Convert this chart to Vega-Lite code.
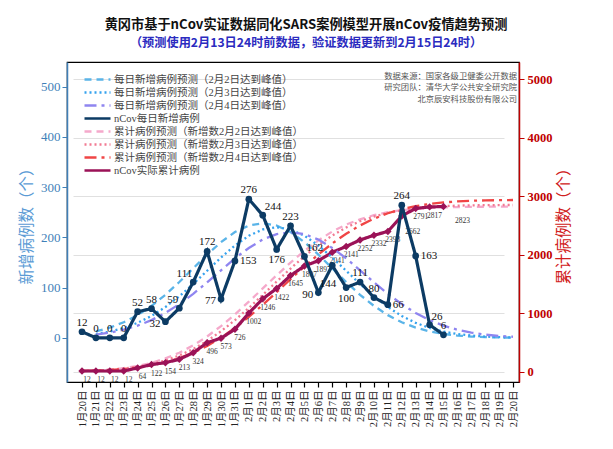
{
  "$schema": "https://vega.github.io/schema/vega-lite/v6.json",
  "width": 452,
  "height": 320,
  "autosize": {"type": "none"},
  "padding": {"left": 67, "top": 62, "right": 94, "bottom": 67},
  "title": {
    "text": "黄冈市基于nCov实证数据同化SARS案例模型开展nCov疫情趋势预测",
    "subtitle": "（预测使用2月13日24时前数据，验证数据更新到2月15日24时）",
    "anchor": "middle",
    "dx": 13,
    "offset": 12,
    "font": "Noto Sans CJK SC",
    "fontSize": 13.2,
    "fontWeight": "bold",
    "color": "#111111",
    "subtitleFont": "Noto Sans CJK SC",
    "subtitleFontSize": 12.2,
    "subtitleFontWeight": "bold",
    "subtitleColor": "#2b2bc0",
    "subtitlePadding": 5
  },
  "datasets": {
    "names": [
      {"key": "p1", "series": "每日新增病例预测（2月2日达到峰值）"},
      {"key": "p2", "series": "每日新增病例预测（2月3日达到峰值）"},
      {"key": "p3", "series": "每日新增病例预测（2月4日达到峰值）"},
      {"key": "act", "series": "nCov每日新增病例"},
      {"key": "c1", "series": "累计病例预测（新增数2月2日达到峰值）"},
      {"key": "c2", "series": "累计病例预测（新增数2月3日达到峰值）"},
      {"key": "c3", "series": "累计病例预测（新增数2月4日达到峰值）"},
      {"key": "cact", "series": "nCov实际累计病例"}
    ],
    "daily": [
      {"date": "1月20日", "act": 12},
      {"date": "1月21日", "act": 0, "p1": 12.8, "p2": 7.5, "p3": 6.3},
      {"date": "1月22日", "act": 0, "p1": 20.3, "p2": 12.3, "p3": 10.3},
      {"date": "1月23日", "act": 0, "p1": 30.9, "p2": 19.6, "p3": 16.1},
      {"date": "1月24日", "act": 52, "p1": 45.1, "p2": 29.8, "p3": 24.2},
      {"date": "1月25日", "act": 58, "p1": 63.4, "p2": 43.5, "p3": 35.2},
      {"date": "1月26日", "act": 32, "p1": 85.6, "p2": 61.2, "p3": 49.4},
      {"date": "1月27日", "act": 59, "p1": 111.0, "p2": 82.6, "p3": 67.0},
      {"date": "1月28日", "act": 111, "p1": 138.3, "p2": 107.2, "p3": 87.5},
      {"date": "1月29日", "act": 172, "p1": 165.6, "p2": 133.4, "p3": 110.4},
      {"date": "1月30日", "act": 77, "p1": 190.4, "p2": 159.8, "p3": 134.4},
      {"date": "1月31日", "act": 153, "p1": 210.5, "p2": 183.8, "p3": 158.2},
      {"date": "2月1日", "act": 276, "p1": 223.5, "p2": 203.1, "p3": 178.8},
      {"date": "2月2日", "act": 244, "p1": 228.0, "p2": 215.6, "p3": 195.6},
      {"date": "2月3日", "act": 176, "p1": 223.5, "p2": 220.0, "p3": 206.3},
      {"date": "2月4日", "act": 223, "p1": 210.5, "p2": 215.6, "p3": 210.0},
      {"date": "2月5日", "act": 162, "p1": 190.4, "p2": 203.1, "p3": 206.3},
      {"date": "2月6日", "act": 90, "p1": 165.6, "p2": 183.8, "p3": 195.6},
      {"date": "2月7日", "act": 144, "p1": 138.3, "p2": 159.8, "p3": 178.8},
      {"date": "2月8日", "act": 100, "p1": 111.0, "p2": 133.4, "p3": 158.2},
      {"date": "2月9日", "act": 111, "p1": 85.6, "p2": 107.2, "p3": 134.4},
      {"date": "2月10日", "act": 80, "p1": 63.4, "p2": 82.6, "p3": 110.4},
      {"date": "2月11日", "act": 66, "p1": 45.1, "p2": 61.2, "p3": 87.5},
      {"date": "2月12日", "act": 264, "p1": 30.9, "p2": 43.5, "p3": 67.0},
      {"date": "2月13日", "act": 163, "p1": 20.3, "p2": 29.8, "p3": 49.4},
      {"date": "2月14日", "act": 26, "p1": 12.8, "p2": 19.6, "p3": 35.2},
      {"date": "2月15日", "act": 6, "p1": 7.7, "p2": 12.3, "p3": 24.2},
      {"date": "2月16日", "p1": 4.5, "p2": 7.5, "p3": 16.1},
      {"date": "2月17日", "p1": 2.5, "p2": 4.4, "p3": 10.3},
      {"date": "2月18日", "p1": 1.4, "p2": 2.4, "p3": 6.3},
      {"date": "2月19日", "p1": 0.7, "p2": 1.3, "p3": 3.7},
      {"date": "2月20日", "p1": 0.4, "p2": 0.7, "p3": 2.1}
    ],
    "cum": [
      {"date": "1月20日", "cact": 12, "c1": 12, "c2": 12, "c3": 12},
      {"date": "1月21日", "cact": 12, "c1": 18, "c2": 19.7, "c3": 18.6},
      {"date": "1月22日", "cact": 12, "c1": 35, "c2": 32.9, "c3": 29.4},
      {"date": "1月23日", "cact": 12, "c1": 60, "c2": 53, "c3": 46.4},
      {"date": "1月24日", "cact": 64, "c1": 98, "c2": 83.9, "c3": 71.9},
      {"date": "1月25日", "cact": 122, "c1": 152, "c2": 128.8, "c3": 109},
      {"date": "1月26日", "cact": 154, "c1": 227, "c2": 192, "c3": 161},
      {"date": "1月27日", "cact": 213, "c1": 325, "c2": 277, "c3": 231.5},
      {"date": "1月28日", "cact": 324, "c1": 450, "c2": 388, "c3": 323.6},
      {"date": "1月29日", "cact": 496, "c1": 602, "c2": 526, "c3": 439.9},
      {"date": "1月30日", "cact": 573, "c1": 780, "c2": 691, "c3": 581.4},
      {"date": "1月31日", "cact": 726, "c1": 980, "c2": 881, "c3": 748},
      {"date": "2月1日", "cact": 1002, "c1": 1197, "c2": 1090, "c3": 936},
      {"date": "2月2日", "cact": 1246, "c1": 1423, "c2": 1313, "c3": 1142},
      {"date": "2月3日", "cact": 1422, "c1": 1649, "c2": 1540, "c3": 1359},
      {"date": "2月4日", "cact": 1645, "c1": 1866, "c2": 1763, "c3": 1581},
      {"date": "2月5日", "cact": 1807, "c1": 2066, "c2": 1973, "c3": 1798},
      {"date": "2月6日", "cact": 1897, "c1": 2244, "c2": 2163, "c3": 2004},
      {"date": "2月7日", "cact": 2041, "c1": 2396, "c2": 2328, "c3": 2192},
      {"date": "2月8日", "cact": 2141, "c1": 2515, "c2": 2465, "c3": 2359},
      {"date": "2月9日", "cact": 2252, "c1": 2605, "c2": 2572, "c3": 2500},
      {"date": "2月10日", "cact": 2332, "c1": 2675, "c2": 2652, "c3": 2616},
      {"date": "2月11日", "cact": 2398, "c1": 2726, "c2": 2712, "c3": 2709},
      {"date": "2月12日", "cact": 2662, "c1": 2761, "c2": 2758, "c3": 2779},
      {"date": "2月13日", "cact": 2791, "c1": 2784, "c2": 2792, "c3": 2831},
      {"date": "2月14日", "cact": 2817, "c1": 2799, "c2": 2815, "c3": 2868},
      {"date": "2月15日", "cact": 2823, "c1": 2809, "c2": 2830, "c3": 2894},
      {"date": "2月16日", "c1": 2814, "c2": 2839, "c3": 2911},
      {"date": "2月17日", "c1": 2818, "c2": 2844, "c3": 2922},
      {"date": "2月18日", "c1": 2820, "c2": 2847, "c3": 2928},
      {"date": "2月19日", "c1": 2821, "c2": 2849, "c3": 2932},
      {"date": "2月20日", "c1": 2822, "c2": 2850, "c3": 2935}
    ]
  },
  "encoding": {
    "x": {
      "field": "date",
      "type": "ordinal",
      "scale": {
        "type": "point",
        "domain": ["1月20日", "1月21日", "1月22日", "1月23日", "1月24日", "1月25日", "1月26日", "1月27日", "1月28日", "1月29日", "1月30日", "1月31日", "2月1日", "2月2日", "2月3日", "2月4日", "2月5日", "2月6日", "2月7日", "2月8日", "2月9日", "2月10日", "2月11日", "2月12日", "2月13日", "2月14日", "2月15日", "2月16日", "2月17日", "2月18日", "2月19日", "2月20日"],
        "range": [15, 446],
        "padding": 0
      },
      "axis": {
        "title": null,
        "labelAngle": -90,
        "labelFont": "Liberation Serif, Noto Sans CJK SC",
        "labelFontSize": 10.5,
        "labelColor": "#222222",
        "labelPadding": 3,
        "labelOverlap": false,
        "domainColor": "#000000",
        "domainWidth": 1.2,
        "tickColor": "#000000",
        "tickWidth": 1.2,
        "tickSize": 5,
        "grid": false
      }
    }
  },
  "layer": [
    {
      "data": {"name": "cum"},
      "transform": [
        {"fold": ["c1", "c2", "c3", "cact"], "as": ["key", "n"]},
        {"filter": "isValid(datum.n)"},
        {"lookup": "key", "from": {"data": {"name": "names"}, "key": "key", "fields": ["series"]}}
      ],
      "encoding": {
        "y": {
          "field": "n",
          "type": "quantitative",
          "scale": {"domain": [-176, 5294], "nice": false, "zero": false},
          "axis": {
            "orient": "right",
            "values": [0, 1000, 2000, 3000, 4000, 5000],
            "format": "d",
            "title": "累计病例数（个）",
            "titleAngle": 270,
            "titleBaseline": "top",
            "titleColor": "#d02020",
            "titleFont": "Noto Sans CJK SC",
            "titleFontSize": 15.5,
            "titleFontWeight": "normal",
            "titlePadding": 4,
            "labelFont": "Liberation Serif",
            "labelFontSize": 12.5,
            "labelFontWeight": "bold",
            "labelColor": "#c00000",
            "labelPadding": 3,
            "domainColor": "#c00000",
            "domainWidth": 1.5,
            "tickColor": "#c00000",
            "tickSize": 5,
            "grid": true,
            "gridColor": "#e0e0e0"
          }
        }
      },
      "layer": [
        {
          "transform": [{"filter": "datum.key != 'cact'"}],
          "mark": {"type": "line", "strokeWidth": 2.3},
          "encoding": {
            "color": {"field": "series", "type": "nominal", "scale": {"domain": ["每日新增病例预测（2月2日达到峰值）", "每日新增病例预测（2月3日达到峰值）", "每日新增病例预测（2月4日达到峰值）", "nCov每日新增病例", "累计病例预测（新增数2月2日达到峰值）", "累计病例预测（新增数2月3日达到峰值）", "累计病例预测（新增数2月4日达到峰值）", "nCov实际累计病例"], "range": ["#5ab4e8", "#35a2ee", "#8f85f0", "#0c3b64", "#f5a9cb", "#f27a92", "#f04545", "#9b1257"]}, "legend": {"title": null, "orient": "none", "legendX": 16, "legendY": 11}},
            "strokeDash": {"field": "series", "type": "nominal", "scale": {"domain": ["每日新增病例预测（2月2日达到峰值）", "每日新增病例预测（2月3日达到峰值）", "每日新增病例预测（2月4日达到峰值）", "nCov每日新增病例", "累计病例预测（新增数2月2日达到峰值）", "累计病例预测（新增数2月3日达到峰值）", "累计病例预测（新增数2月4日达到峰值）", "nCov实际累计病例"], "range": [[7, 5], [2, 3], [12, 5, 3, 5], [1, 0], [7, 5], [2, 3], [12, 5, 3, 5], [1, 0]]}, "legend": {"title": null, "orient": "none", "legendX": 16, "legendY": 11}}
          }
        },
        {
          "transform": [{"filter": "datum.key == 'cact'"}],
          "mark": {"type": "line", "strokeWidth": 3.2},
          "encoding": {
            "color": {"field": "series", "type": "nominal", "scale": {"domain": ["每日新增病例预测（2月2日达到峰值）", "每日新增病例预测（2月3日达到峰值）", "每日新增病例预测（2月4日达到峰值）", "nCov每日新增病例", "累计病例预测（新增数2月2日达到峰值）", "累计病例预测（新增数2月3日达到峰值）", "累计病例预测（新增数2月4日达到峰值）", "nCov实际累计病例"], "range": ["#5ab4e8", "#35a2ee", "#8f85f0", "#0c3b64", "#f5a9cb", "#f27a92", "#f04545", "#9b1257"]}, "legend": {"title": null, "orient": "none", "legendX": 16, "legendY": 11}},
            "strokeDash": {"field": "series", "type": "nominal", "scale": {"domain": ["每日新增病例预测（2月2日达到峰值）", "每日新增病例预测（2月3日达到峰值）", "每日新增病例预测（2月4日达到峰值）", "nCov每日新增病例", "累计病例预测（新增数2月2日达到峰值）", "累计病例预测（新增数2月3日达到峰值）", "累计病例预测（新增数2月4日达到峰值）", "nCov实际累计病例"], "range": [[7, 5], [2, 3], [12, 5, 3, 5], [1, 0], [7, 5], [2, 3], [12, 5, 3, 5], [1, 0]]}, "legend": {"title": null, "orient": "none", "legendX": 16, "legendY": 11}}
          }
        },
        {
          "transform": [{"filter": "datum.key == 'cact'"}],
          "mark": {"type": "point", "shape": "diamond", "filled": true, "size": 55, "color": "#9b1257", "opacity": 1}
        },
        {
          "transform": [{"filter": "datum.key == 'cact'"}, {"filter": {"not": {"field": "date", "oneOf": ["2月12日", "2月15日"]}}}],
          "mark": {"type": "text", "font": "Liberation Serif", "fontSize": 7.5, "color": "#333333", "align": "center", "baseline": "middle", "dx": 5, "dy": 9},
          "encoding": {"text": {"field": "n", "type": "quantitative"}}
        },
        {
          "transform": [{"filter": "datum.key == 'cact'"}, {"filter": {"field": "date", "oneOf": ["2月12日"]}}],
          "mark": {"type": "text", "font": "Liberation Serif", "fontSize": 7.5, "color": "#333333", "align": "center", "baseline": "middle", "dx": 11, "dy": 16},
          "encoding": {"text": {"field": "n", "type": "quantitative"}}
        },
        {
          "transform": [{"filter": "datum.key == 'cact'"}, {"filter": {"field": "date", "oneOf": ["2月15日"]}}],
          "mark": {"type": "text", "font": "Liberation Serif", "fontSize": 7.5, "color": "#333333", "align": "center", "baseline": "middle", "dx": 19, "dy": 14},
          "encoding": {"text": {"field": "n", "type": "quantitative"}}
        }
      ]
    },
    {
      "data": {"name": "daily"},
      "transform": [
        {"fold": ["p1", "p2", "p3", "act"], "as": ["key", "n"]},
        {"filter": "isValid(datum.n)"},
        {"lookup": "key", "from": {"data": {"name": "names"}, "key": "key", "fields": ["series"]}}
      ],
      "encoding": {
        "y": {
          "field": "n",
          "type": "quantitative",
          "scale": {"domain": [-88, 549], "nice": false, "zero": false},
          "axis": {
            "orient": "left",
            "values": [0, 100, 200, 300, 400, 500],
            "format": "d",
            "title": "新增病例数（个）",
            "titleColor": "#5b9bd5",
            "titleFont": "Noto Sans CJK SC",
            "titleFontSize": 15.5,
            "titleFontWeight": "normal",
            "titlePadding": 6,
            "labelFont": "Liberation Serif",
            "labelFontSize": 13,
            "labelColor": "#3f7fb8",
            "labelPadding": 2,
            "domainColor": "#3f7fb8",
            "domainWidth": 1.5,
            "tickColor": "#3f7fb8",
            "tickSize": 5,
            "grid": false
          }
        }
      },
      "layer": [
        {
          "transform": [{"filter": "datum.key != 'act'"}],
          "mark": {"type": "line", "strokeWidth": 2.3},
          "encoding": {
            "color": {"field": "series", "type": "nominal", "scale": {"domain": ["每日新增病例预测（2月2日达到峰值）", "每日新增病例预测（2月3日达到峰值）", "每日新增病例预测（2月4日达到峰值）", "nCov每日新增病例", "累计病例预测（新增数2月2日达到峰值）", "累计病例预测（新增数2月3日达到峰值）", "累计病例预测（新增数2月4日达到峰值）", "nCov实际累计病例"], "range": ["#5ab4e8", "#35a2ee", "#8f85f0", "#0c3b64", "#f5a9cb", "#f27a92", "#f04545", "#9b1257"]}, "legend": {"title": null, "orient": "none", "legendX": 16, "legendY": 11}},
            "strokeDash": {"field": "series", "type": "nominal", "scale": {"domain": ["每日新增病例预测（2月2日达到峰值）", "每日新增病例预测（2月3日达到峰值）", "每日新增病例预测（2月4日达到峰值）", "nCov每日新增病例", "累计病例预测（新增数2月2日达到峰值）", "累计病例预测（新增数2月3日达到峰值）", "累计病例预测（新增数2月4日达到峰值）", "nCov实际累计病例"], "range": [[7, 5], [2, 3], [12, 5, 3, 5], [1, 0], [7, 5], [2, 3], [12, 5, 3, 5], [1, 0]]}, "legend": {"title": null, "orient": "none", "legendX": 16, "legendY": 11}}
          }
        },
        {
          "transform": [{"filter": "datum.key == 'act'"}],
          "mark": {"type": "line", "strokeWidth": 3.2},
          "encoding": {
            "color": {"field": "series", "type": "nominal", "scale": {"domain": ["每日新增病例预测（2月2日达到峰值）", "每日新增病例预测（2月3日达到峰值）", "每日新增病例预测（2月4日达到峰值）", "nCov每日新增病例", "累计病例预测（新增数2月2日达到峰值）", "累计病例预测（新增数2月3日达到峰值）", "累计病例预测（新增数2月4日达到峰值）", "nCov实际累计病例"], "range": ["#5ab4e8", "#35a2ee", "#8f85f0", "#0c3b64", "#f5a9cb", "#f27a92", "#f04545", "#9b1257"]}, "legend": {"title": null, "orient": "none", "legendX": 16, "legendY": 11}},
            "strokeDash": {"field": "series", "type": "nominal", "scale": {"domain": ["每日新增病例预测（2月2日达到峰值）", "每日新增病例预测（2月3日达到峰值）", "每日新增病例预测（2月4日达到峰值）", "nCov每日新增病例", "累计病例预测（新增数2月2日达到峰值）", "累计病例预测（新增数2月3日达到峰值）", "累计病例预测（新增数2月4日达到峰值）", "nCov实际累计病例"], "range": [[7, 5], [2, 3], [12, 5, 3, 5], [1, 0], [7, 5], [2, 3], [12, 5, 3, 5], [1, 0]]}, "legend": {"title": null, "orient": "none", "legendX": 16, "legendY": 11}}
          }
        },
        {
          "transform": [{"filter": "datum.key == 'act'"}],
          "mark": {"type": "point", "shape": "circle", "filled": true, "size": 45, "color": "#0c3b64", "opacity": 1}
        },
        {
          "transform": [{"filter": "datum.key == 'act'"}, {"filter": {"field": "date", "oneOf": ["1月20日", "1月21日", "1月22日", "1月23日", "1月24日", "1月25日", "1月29日", "2月1日", "2月4日", "2月9日", "2月10日", "2月12日", "2月15日"]}}],
          "mark": {"type": "text", "font": "Liberation Serif", "fontSize": 11, "color": "#111111", "align": "center", "baseline": "bottom", "dy": -4},
          "encoding": {"text": {"field": "n", "type": "quantitative"}}
        },
        {
          "transform": [{"filter": "datum.key == 'act'"}, {"filter": {"field": "date", "oneOf": ["1月27日", "1月28日"]}}],
          "mark": {"type": "text", "font": "Liberation Serif", "fontSize": 11, "color": "#111111", "align": "right", "baseline": "bottom", "dx": -1, "dy": -3},
          "encoding": {"text": {"field": "n", "type": "quantitative"}}
        },
        {
          "transform": [{"filter": "datum.key == 'act'"}, {"filter": {"field": "date", "oneOf": ["2月2日", "2月5日", "2月14日"]}}],
          "mark": {"type": "text", "font": "Liberation Serif", "fontSize": 11, "color": "#111111", "align": "left", "baseline": "bottom", "dx": 2, "dy": -3},
          "encoding": {"text": {"field": "n", "type": "quantitative"}}
        },
        {
          "transform": [{"filter": "datum.key == 'act'"}, {"filter": {"field": "date", "oneOf": ["2月3日", "2月8日"]}}],
          "mark": {"type": "text", "font": "Liberation Serif", "fontSize": 11, "color": "#111111", "align": "center", "baseline": "top", "dy": 5},
          "encoding": {"text": {"field": "n", "type": "quantitative"}}
        },
        {
          "transform": [{"filter": "datum.key == 'act'"}, {"filter": {"field": "date", "oneOf": ["2月7日"]}}],
          "mark": {"type": "text", "font": "Liberation Serif", "fontSize": 11, "color": "#111111", "align": "right", "baseline": "top", "dx": 4, "dy": 13},
          "encoding": {"text": {"field": "n", "type": "quantitative"}}
        },
        {
          "transform": [{"filter": "datum.key == 'act'"}, {"filter": {"field": "date", "oneOf": ["1月26日", "1月30日", "2月6日"]}}],
          "mark": {"type": "text", "font": "Liberation Serif", "fontSize": 11, "color": "#111111", "align": "right", "baseline": "middle", "dx": -5, "dy": 2},
          "encoding": {"text": {"field": "n", "type": "quantitative"}}
        },
        {
          "transform": [{"filter": "datum.key == 'act'"}, {"filter": {"field": "date", "oneOf": ["1月31日", "2月11日", "2月13日"]}}],
          "mark": {"type": "text", "font": "Liberation Serif", "fontSize": 11, "color": "#111111", "align": "left", "baseline": "middle", "dx": 5},
          "encoding": {"text": {"field": "n", "type": "quantitative"}}
        }
      ]
    },
    {
      "data": {"values": [{}]},
      "mark": {"type": "text", "font": "Noto Sans CJK SC", "fontSize": 8.3, "lineHeight": 11.5, "color": "#555555", "align": "right", "baseline": "top", "dx": 4},
      "encoding": {
        "x": {"datum": "2月20日"},
        "y": {"datum": 5130, "scale": {"domain": [-176, 5294], "nice": false, "zero": false}, "axis": null},
        "text": {"value": ["数据来源：国家各级卫健委公开数据", "研究团队：清华大学公共安全研究院", "北京辰安科技股份有限公司"]}
      }
    }
  ],
  "resolve": {"scale": {"y": "independent"}},
  "config": {
    "view": {"stroke": "#000000", "strokeWidth": 1.2},
    "legend": {
      "padding": 0,
      "labelFont": "Liberation Serif, Noto Sans CJK SC",
      "labelFontSize": 10.5,
      "labelColor": "#444444",
      "labelLimit": 400,
      "labelOffset": 2,
      "symbolType": "stroke",
      "symbolSize": 676,
      "symbolStrokeWidth": 2.5,
      "clipHeight": 13,
      "rowPadding": 0
    }
  }
}
